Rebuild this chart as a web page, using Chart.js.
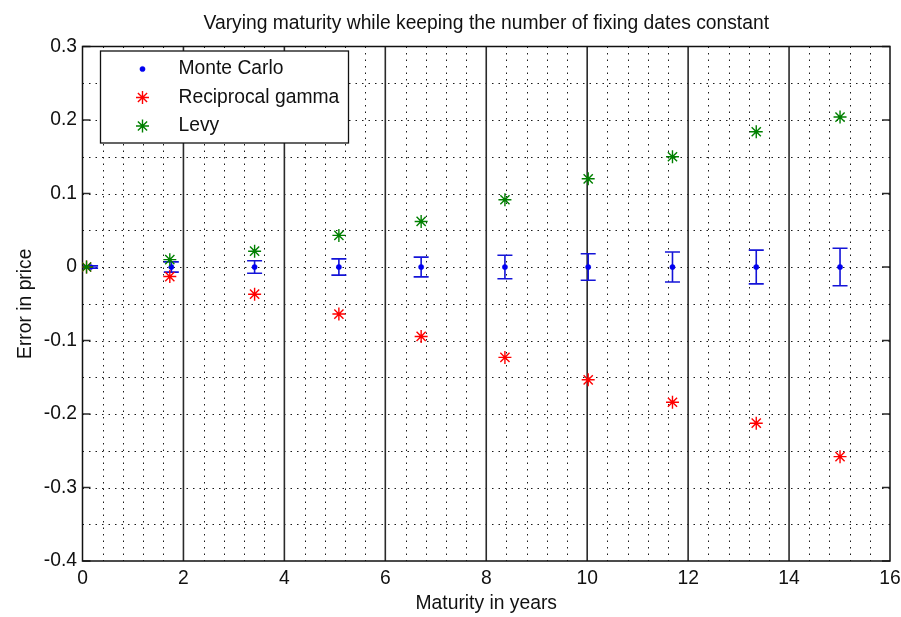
<!DOCTYPE html>
<html>
<head>
<meta charset="utf-8">
<title>Error in price vs maturity</title>
<script src="https://cdn.jsdelivr.net/npm/chart.js@4.4.1/dist/chart.umd.min.js"></script>
<style>
  html, body { margin: 0; padding: 0; background: #fff; }
  #wrap { width: 901px; height: 617px; }
</style>
</head>
<body>
<div id="wrap"><canvas id="myChart"></canvas></div>
<script>
// Maturities (years) and pricing error of each method
const maturities = [0.08, 1.73, 3.41, 5.08, 6.71, 8.37, 10.02, 11.69, 13.35, 15.01];
const mcMaturities = [0.16, 1.76, 3.41, 5.08, 6.71, 8.37, 10.02, 11.69, 13.35, 15.01];
const monteCarlo = [0, 0, 0, 0, 0, 0, 0, 0, 0, 0];
const monteCarloErr = [0.0015, 0.007, 0.0085, 0.011, 0.0135, 0.016, 0.018, 0.0205, 0.023, 0.0255];
const reciprocalGamma = [0, -0.013, -0.037, -0.064, -0.0945, -0.123, -0.1535, -0.184, -0.2125, -0.258];
const levy = [0, 0.010, 0.0215, 0.043, 0.062, 0.0915, 0.120, 0.150, 0.184, 0.204];

const xTicks = [0, 2, 4, 6, 8, 10, 12, 14, 16];
const yTicks = [-0.4, -0.3, -0.2, -0.1, 0, 0.1, 0.2, 0.3];

const chartTitle = 'Varying maturity while keeping the number of fixing dates constant';

const FONT = '"Liberation Sans", Arial, sans-serif';
const textFont = { family: FONT, size: 19.3 };

// dotted grid, solid lines on the major x ticks, inward y ticks and the box
const matlabAxes = {
    id: 'matlabAxes',
    beforeDatasetsDraw(chart) {
        const { ctx, chartArea: a, scales: { x, y } } = chart;
        ctx.save();
        ctx.strokeStyle = '#1a1a1a';
        ctx.lineWidth = 1;
        ctx.setLineDash([1.5, 5]);
        ctx.beginPath();
        for (let i = -7; i <= 5; i++) {
            const py = Math.round(y.getPixelForValue(i * 0.05)) + 0.5;
            ctx.moveTo(a.left, py);
            ctx.lineTo(a.right, py);
        }
        for (let i = 1; i < 40; i++) {
            if (i % 5 === 0) continue;
            const px = Math.round(x.getPixelForValue(i * 0.4)) + 0.5;
            ctx.moveTo(px, a.top);
            ctx.lineTo(px, a.bottom);
        }
        ctx.stroke();

        ctx.setLineDash([]);
        ctx.strokeStyle = '#2a2a2a';
        ctx.lineWidth = 1.6;
        ctx.beginPath();
        xTicks.slice(1, -1).forEach(v => {
            const px = x.getPixelForValue(v);
            ctx.moveTo(px, a.top);
            ctx.lineTo(px, a.bottom);
        });
        yTicks.forEach(v => {
            const py = y.getPixelForValue(v);
            ctx.moveTo(a.left, py);
            ctx.lineTo(a.left + 8, py);
            ctx.moveTo(a.right, py);
            ctx.lineTo(a.right - 8, py);
        });
        ctx.stroke();

        ctx.strokeStyle = '#111';
        ctx.lineWidth = 1.5;
        ctx.strokeRect(a.left, a.top, a.right - a.left, a.bottom - a.top);
        ctx.restore();
    }
};

// Monte Carlo confidence bars
const errorBars = {
    id: 'errorBars',
    beforeDatasetsDraw(chart) {
        const { ctx, scales: { x, y } } = chart;
        ctx.save();
        ctx.strokeStyle = '#1414d8';
        ctx.lineWidth = 1.6;
        mcMaturities.forEach((m, i) => {
            const px = x.getPixelForValue(m);
            const top = y.getPixelForValue(monteCarlo[i] + monteCarloErr[i]);
            const bot = y.getPixelForValue(monteCarlo[i] - monteCarloErr[i]);
            ctx.beginPath();
            ctx.moveTo(px, top);
            ctx.lineTo(px, bot);
            ctx.moveTo(px - 7.5, top);
            ctx.lineTo(px + 7.5, top);
            ctx.moveTo(px - 7.5, bot);
            ctx.lineTo(px + 7.5, bot);
            ctx.stroke();
        });
        ctx.restore();
    }
};

// title centred over the plot box, boxed legend in the upper left corner
const boxLegend = {
    id: 'boxLegend',
    afterDraw(chart) {
        const { ctx, chartArea: a } = chart;
        ctx.save();
        ctx.font = textFont.size + 'px ' + FONT;
        ctx.fillStyle = '#111';
        ctx.textAlign = 'center';
        ctx.textBaseline = 'middle';
        ctx.fillText(chartTitle, (a.left + a.right) / 2, 24);

        const left = a.left + 18, top = a.top + 4.5, w = 248, h = 92;
        ctx.fillStyle = '#fff';
        ctx.fillRect(left, top, w, h);
        ctx.strokeStyle = '#111';
        ctx.lineWidth = 1.3;
        ctx.strokeRect(left, top, w, h);
        ctx.textAlign = 'left';
        chart.data.datasets.forEach((ds, i) => {
            const cy = top + 18 + i * 28.5;
            ctx.fillStyle = ds.backgroundColor;
            ctx.strokeStyle = ds.borderColor;
            ctx.lineWidth = ds.borderWidth;
            Chart.helpers.drawPoint(ctx, {
                pointStyle: ds.pointStyle, radius: ds.pointRadius,
                rotation: 0, borderWidth: ds.borderWidth
            }, left + 42, cy);
            ctx.fillStyle = '#111';
            ctx.fillText(ds.label, left + 78, cy);
        });
        ctx.restore();
    }
};

const ctx = document.getElementById('myChart').getContext('2d');
new Chart(ctx, {
    type: 'scatter',
    data: {
        datasets: [{
            label: 'Monte Carlo',
            data: mcMaturities.map((m, i) => ({ x: m, y: monteCarlo[i] })),
            pointStyle: 'circle',
            pointRadius: 2.6,
            backgroundColor: '#0000f0',
            borderColor: '#0000f0',
            borderWidth: 0.5,
            order: 3
        }, {
            label: 'Reciprocal gamma',
            data: maturities.map((m, i) => ({ x: m, y: reciprocalGamma[i] })),
            pointStyle: 'star',
            pointRadius: 6.5,
            backgroundColor: '#ff0000',
            borderColor: '#ff0000',
            borderWidth: 1.4,
            order: 2
        }, {
            label: 'Levy',
            data: maturities.map((m, i) => ({ x: m, y: levy[i] })),
            pointStyle: 'star',
            pointRadius: 6.5,
            backgroundColor: '#008000',
            borderColor: '#008000',
            borderWidth: 1.4,
            order: 1
        }]
    },
    options: {
        responsive: true,
        maintainAspectRatio: false,
        animation: false,
        layout: { padding: { top: 46.5, right: 11, bottom: 0, left: 0 } },
        plugins: {
            legend: { display: false },
            tooltip: { enabled: false },
            title: { display: false }
        },
        scales: {
            x: {
                type: 'linear',
                min: 0,
                max: 16,
                afterBuildTicks: s => { s.ticks = xTicks.map(v => ({ value: v })); },
                afterFit: s => { s.height = 56; s.paddingRight = 0; s.paddingLeft = 0; },
                grid: { display: false, drawTicks: false },
                border: { display: false },
                ticks: { color: '#111', font: textFont, padding: 6, maxRotation: 0, autoSkip: false },
                title: {
                    display: true, text: 'Maturity in years', color: '#111',
                    font: textFont, padding: { top: 0, bottom: 1.5 }
                }
            },
            y: {
                type: 'linear',
                min: -0.4,
                max: 0.3,
                afterBuildTicks: s => { s.ticks = yTicks.map(v => ({ value: v })); },
                afterFit: s => { s.width = 82.5; s.paddingTop = 0; s.paddingBottom = 0; },
                grid: { display: false, drawTicks: false },
                border: { display: false },
                ticks: {
                    color: '#111', font: textFont, padding: 5.5, autoSkip: false,
                    callback: v => String(+v.toFixed(2))
                },
                title: {
                    display: true, text: 'Error in price', color: '#111',
                    font: textFont, padding: { top: 13.6, bottom: 0 }
                }
            }
        }
    },
    plugins: [matlabAxes, errorBars, boxLegend]
});
</script>
</body>
</html>
